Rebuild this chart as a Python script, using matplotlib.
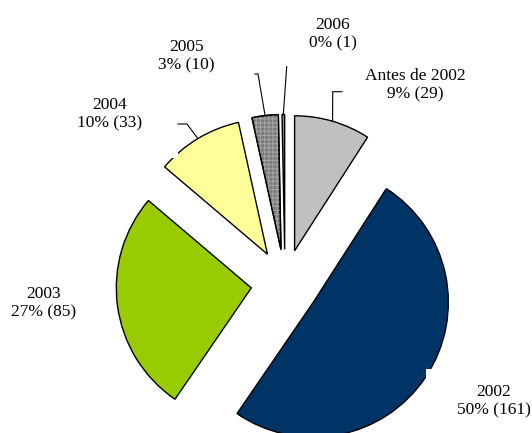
import matplotlib
matplotlib.use('Agg')
import matplotlib.pyplot as plt
from matplotlib.patches import Wedge, Rectangle
import numpy as np

# ---- data ----
categories = ['Antes de 2002', '2002', '2003', '2004', '2005', '2006']
values = [29, 161, 85, 33, 10, 1]
percent_labels = ['9%', '50%', '27%', '10%', '3%', '0%']
colors = ['#C0C0C0', '#003366', '#99CC00', '#FFFF99', '#7C7C7C', '#D46A6A']

# label positions (pixel coords, y downward) and leader line outer points
label_pos = [(415, 85), (493.5, 401.5), (44, 303), (110, 114), (186.5, 56.5), (333, 34)]
leader_outer = [
    [(342, 91.7), (332.7, 91.7)],
    None,
    None,
    [(178, 124), (187, 124)],
    [(255, 74), (258, 74)],
    [(286.7, 66.7)],
]

W, H = 532, 433
fig = plt.figure(figsize=(W / 100, H / 100), dpi=100)
ax = fig.add_axes([0, 0, 1, 1])

R = 135
EXPLODE = 34
center = (285, H - 283.4)
wedges, _ = ax.pie(values, colors=colors, startangle=90, counterclock=False,
                   radius=R, center=center, explode=[EXPLODE] * len(values),
                   frame=True,
                   wedgeprops=dict(edgecolor='black', linewidth=1.0))

# dotted pattern on the 2005 slice
plt.rcParams['hatch.linewidth'] = 0.7
w5 = wedges[4]
ax.add_patch(Wedge(w5.center, w5.r, w5.theta1, w5.theta2, fill=False,
                   hatch='++++', edgecolor='#A6A6A6', linewidth=0, zorder=1.5))
ax.add_patch(Wedge(w5.center, w5.r, w5.theta1, w5.theta2, fill=False,
                   edgecolor='black', linewidth=1.0, zorder=1.6))

# white label boxes clipping slices
ax.add_patch(Rectangle((426, 0), W - 426, H - 369, facecolor='white',
                       edgecolor='none', zorder=3))
ax.add_patch(Rectangle((0, H - 158), 178, 158, facecolor='white',
                       edgecolor='none', zorder=3))

font = dict(family='Liberation Serif', size=12.5, color='black')
for w, cat, pct, val, pos, outer in zip(wedges, categories, percent_labels,
                                         values, label_pos, leader_outer):
    ax.text(pos[0], H - pos[1], f'{cat}\n{pct} ({val})', ha='center',
            va='center', multialignment='center', linespacing=1.2,
            zorder=5, **font)
    if outer is not None:
        mid = np.deg2rad((w.theta1 + w.theta2) / 2)
        px = w.center[0] + w.r * np.cos(mid)
        py = w.center[1] + w.r * np.sin(mid)
        xs = [p[0] for p in outer] + [px]
        ys = [H - p[1] for p in outer] + [py]
        ax.plot(xs, ys, color='black', linewidth=0.8, zorder=4)

ax.set_xlim(0, W)
ax.set_ylim(0, H)
ax.set_aspect('auto')
ax.axis('off')
fig.savefig('out.png', dpi=100, facecolor='white')
